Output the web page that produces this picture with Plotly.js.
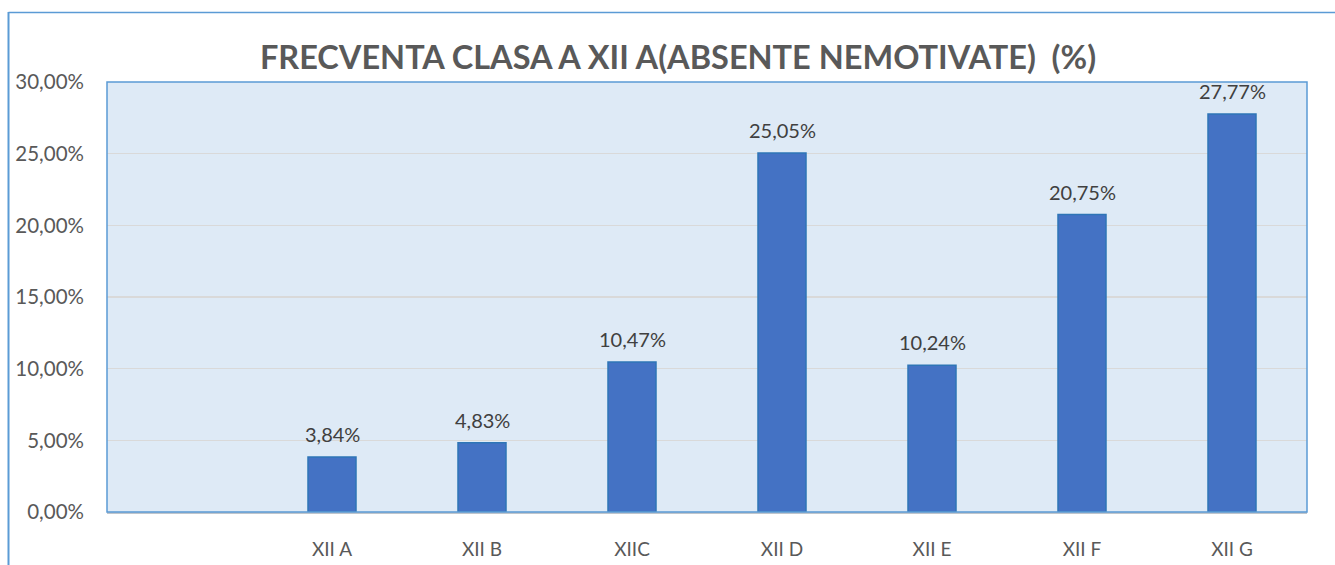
<!DOCTYPE html>
<html><head><meta charset="utf-8">
<script src="https://cdn.plot.ly/plotly-3.0.1.min.js"></script>
<style>html,body{margin:0;padding:0;background:#fff}#c{width:1335px;height:565px}</style>
</head><body><div id="c"></div>
<script>
const categories = [" ", "XII A", "XII B", "XIIC", "XII D", "XII E", "XII F", "XII G"];
const values = [null, 3.84, 4.83, 10.47, 25.05, 10.24, 20.75, 27.77];
const tickVals = [0, 5, 10, 15, 20, 25, 30];
const titleText = "FRECVENTA CLASA A XII A(ABSENTE NEMOTIVATE)  (%)";

const fmt = v => v.toFixed(2).replace('.', ',') + '%';
const W = 1335, H = 565, L = 107, R = 28, T = 82, B = 53;
const pw = W - L - R, ph = H - T - B;
const px = x => (x - L) / pw;
const py = y => (H - B - y) / ph;
const FONT = 'Lato, "Open Sans", sans-serif';

const trace = {
  type: 'bar', x: categories, y: values,
  width: 0.32,
  marker: {color: '#4472C4', line: {color: '#2E75B6', width: 1.5}},
  hoverinfo: 'skip'
};

const annotations = [];
categories.forEach((c, i) => {
  if (values[i] == null) return;
  annotations.push({x: c, y: values[i], xref: 'x', yref: 'y', text: fmt(values[i]),
    showarrow: false, yanchor: 'bottom', yshift: 9,
    font: {family: FONT, size: 20, color: '#404040'}});
});

const layout = {
  width: W, height: H,
  margin: {l: L, r: R, t: T, b: B},
  paper_bgcolor: '#ffffff', plot_bgcolor: '#DEEAF6',
  showlegend: false,
  annotations: annotations,
  title: {text: '<b>' + titleText + '</b>', x: 678 / W, xanchor: 'center', y: 1 - 58/H, yanchor: 'middle',
    font: {family: FONT, size: 32.5, color: '#595959'}},
  xaxis: {type: 'category', showgrid: false, zeroline: false, showline: true, linecolor: '#BFC5CC', linewidth: 2,
    ticks: '', ticklabelstandoff: 19,
    tickfont: {family: FONT, size: 19, color: '#595959'}},
  yaxis: {range: [0, 30], tickmode: 'array', tickvals: tickVals, ticktext: tickVals.map(fmt),
    showgrid: true, gridcolor: '#D9D9D9', gridwidth: 1.5, zeroline: false, showline: false,
    ticks: '', ticklabelstandoff: 22,
    tickfont: {family: FONT, size: 20.5, color: '#595959'}},
  shapes: [
    {type: 'rect', xref: 'paper', yref: 'paper', x0: 0, x1: 1, y0: 0, y1: 1, line: {color: '#5B9BD5', width: 1.5}},
    {type: 'line', xref: 'paper', yref: 'paper', x0: px(8.5), x1: px(8.5), y0: py(12), y1: py(566), line: {color: '#5B9BD5', width: 2}},
    {type: 'line', xref: 'paper', yref: 'paper', x0: px(8.5), x1: px(1336), y0: py(12.5), y1: py(12.5), line: {color: '#5B9BD5', width: 1.5}}
  ]
};

Plotly.newPlot('c', [trace], layout, {staticPlot: true, displayModeBar: false});
</script></body></html>
